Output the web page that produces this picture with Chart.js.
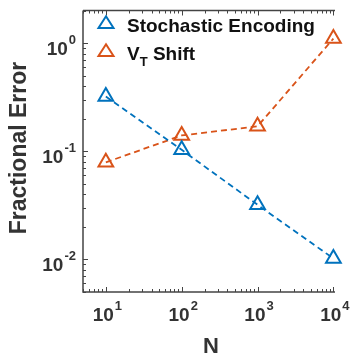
<!DOCTYPE html>
<html><head><meta charset="utf-8">
<script src="https://cdn.jsdelivr.net/npm/chart.js@4.4.1/dist/chart.umd.min.js"></script>
<style>html,body{margin:0;padding:0;background:#fff}#wrap{width:350px;height:360px}</style>
</head><body><div id="wrap"><canvas id="c" width="350" height="360"></canvas></div>
<script>
const categories = [10, 100, 1000, 10000];
const stochastic = [0.32, 0.103, 0.032, 0.0102];
const vtShift = [0.079, 0.14, 0.17, 1.1];
const xTickExps = [1, 2, 3, 4];
const yTickExps = [0, -1, -2];
const seriesNames = ['Stochastic Encoding', 'V', 'T', ' Shift'];
const BLUE = '#0072BD', ORANGE = '#D95319', AX = '#444444';
const FONT = '"Liberation Sans", Arial, sans-serif';

function pts(ys){ return categories.map((x,i)=>({x:x,y:ys[i]})); }

function triangle(ctx, x, y, s, color){
  ctx.save(); ctx.strokeStyle=color; ctx.lineWidth=2;
  ctx.beginPath();
  ctx.moveTo(x, y - s*0.9); ctx.lineTo(x + s, y + s*0.65); ctx.lineTo(x - s, y + s*0.65); ctx.closePath();
  ctx.stroke(); ctx.restore();
}

const axesPlugin = {
  id:'axesPlugin',
  beforeDatasetsDraw(chart){
    const ctx = chart.ctx, a = chart.chartArea, xs = chart.scales.x, ys = chart.scales.y;
    ctx.save();
    ctx.strokeStyle = AX; ctx.lineWidth = 1.5;
    ctx.beginPath();
    ctx.moveTo(a.left, a.top); ctx.lineTo(a.left, a.bottom); ctx.lineTo(a.right, a.bottom);
    ctx.moveTo(a.left, a.top); ctx.lineTo(a.right, a.top);
    ctx.stroke();
    ctx.lineWidth = 1;
    ctx.beginPath();
    for (let k=0;k<=4;k++) for (let m=1;m<=9;m++){
      const v = m*Math.pow(10,k);
      if (v < xs.min || v > xs.max) continue;
      const px = Math.round(xs.getPixelForValue(v))+0.5, L = m===1?5:3;
      ctx.moveTo(px, a.bottom); ctx.lineTo(px, a.bottom-L);
      ctx.moveTo(px, a.top); ctx.lineTo(px, a.top+L);
    }
    for (let k=-3;k<=1;k++) for (let m=1;m<=9;m++){
      const v = m*Math.pow(10,k);
      if (v < ys.min || v > ys.max) continue;
      const py = Math.round(ys.getPixelForValue(v))+0.5, L = m===1?5:3;
      ctx.moveTo(a.left, py); ctx.lineTo(a.left+L, py);
    }
    ctx.stroke();
    // tick labels
    ctx.fillStyle = '#333333';
    const BIG = 'bold 19px '+FONT, SMALL = 'bold 13px '+FONT;
    xTickExps.forEach(e=>{
      const px = xs.getPixelForValue(Math.pow(10,e));
      ctx.font = BIG;
      const w1 = ctx.measureText('10').width;
      ctx.font = SMALL;
      const sup = String(e), w2 = ctx.measureText(sup).width;
      const x0 = px - (w1+w2)/2 + 1;
      ctx.textBaseline = 'alphabetic'; ctx.textAlign='left';
      ctx.font = BIG; ctx.fillText('10', x0, 321);
      ctx.font = SMALL; ctx.fillText(sup, x0+w1+1, 310);
    });
    yTickExps.forEach(e=>{
      const py = ys.getPixelForValue(Math.pow(10,e));
      ctx.font = SMALL;
      const sup = e<0 ? '-'+Math.abs(e) : String(e), w2 = ctx.measureText(sup).width;
      ctx.font = BIG;
      const w1 = ctx.measureText('10').width;
      const xr = a.left - 7;
      ctx.textAlign='left'; ctx.textBaseline='alphabetic';
      ctx.fillText('10', xr - w2 - 1 - w1, py + 12);
      ctx.font = SMALL; ctx.fillText(sup, xr - w2, py + 1);
    });
    // axis titles
    ctx.fillStyle = '#333333';
    ctx.font = 'bold 22px '+FONT; ctx.textAlign='center'; ctx.textBaseline='middle';
    ctx.fillText('N', (a.left+a.right)/2 + 2, 347);
    ctx.save(); ctx.translate(20, 148); ctx.rotate(-Math.PI/2);
    ctx.font = 'bold 23px '+FONT; ctx.fillText('Fractional Error', 0, 0); ctx.restore();
    ctx.restore();
  },
  afterDraw(chart){
    const ctx = chart.ctx;
    ctx.save();
    triangle(ctx, 106, 23, 7.5, BLUE);
    triangle(ctx, 106, 51, 7.5, ORANGE);
    ctx.fillStyle = '#111111'; ctx.textAlign='left'; ctx.textBaseline='alphabetic';
    ctx.font = 'bold 19px '+FONT;
    ctx.fillText(seriesNames[0], 127, 32);
    ctx.fillText(seriesNames[1], 127, 60);
    const wV = ctx.measureText(seriesNames[1]).width;
    ctx.font = 'bold 13px '+FONT;
    ctx.fillText(seriesNames[2], 127+wV, 66);
    const wT = ctx.measureText(seriesNames[2]).width;
    ctx.font = 'bold 19px '+FONT;
    ctx.fillText(seriesNames[3], 127+wV+wT, 60);
    ctx.restore();
  }
};

new Chart(document.getElementById('c'), {
  type:'line',
  data:{ datasets:[
    {label:seriesNames[0], data:pts(stochastic), borderColor:BLUE, backgroundColor:'rgba(0,0,0,0)',
     borderDash:[6,4], borderWidth:1.8, pointStyle:'triangle', pointRadius:8.5, pointBorderWidth:2,
     pointBorderColor:BLUE, pointBackgroundColor:'rgba(0,0,0,0)', clip:false, tension:0},
    {label:'VT Shift', data:pts(vtShift), borderColor:ORANGE, backgroundColor:'rgba(0,0,0,0)',
     borderDash:[6,4], borderWidth:1.8, pointStyle:'triangle', pointRadius:8.5, pointBorderWidth:2,
     pointBorderColor:ORANGE, pointBackgroundColor:'rgba(0,0,0,0)', clip:false, tension:0}
  ]},
  options:{
    responsive:false, animation:false, devicePixelRatio:1,
    layout:{padding:{left:83, top:5, right:15, bottom:68}},
    plugins:{legend:{display:false}, tooltip:{enabled:false}},
    scales:{
      x:{type:'logarithmic', min:5, max:10500, display:false},
      y:{type:'logarithmic', min:0.005, max:2, display:false}
    }
  },
  plugins:[axesPlugin]
});
</script></body></html>
